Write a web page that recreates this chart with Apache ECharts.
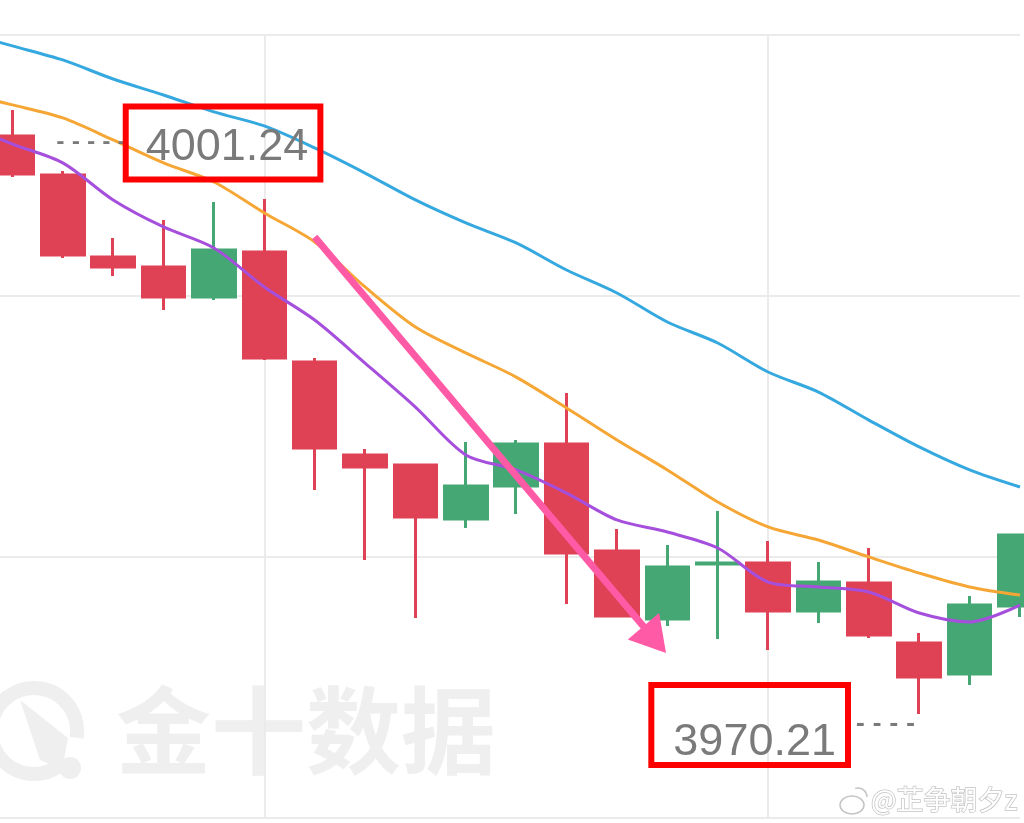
<!DOCTYPE html>
<html>
<head>
<meta charset="utf-8">
<script src="https://cdn.jsdelivr.net/npm/echarts@6/dist/echarts.min.js"></script>
<style>
  html, body { margin: 0; padding: 0; background: #fff; }
  #chart { width: 1024px; height: 823px; }
</style>
</head>
<body>
<div id="chart"></div>
<script>
// 第一根只是占位（屏幕左侧外），只画均线
var categories = ['k0', 'k1', 'k2', 'k3', 'k4', 'k5', 'k6', 'k7', 'k8', 'k9', 'k10',
  'k11', 'k12', 'k13', 'k14', 'k15', 'k16', 'k17', 'k18', 'k19', 'k20', 'k21']

var kOpen = [null, 3999.90, 3997.90, 3993.69, 3993.17, 3991.63, 3993.94, 3988.29, 3983.52, 3983.00, 3980.23,
  3981.92, 3984.08, 3978.58, 3975.09, 3977.92, 3977.97, 3975.50, 3976.94, 3973.86, 3972.27, 3975.76]
var kClose = [null, 3997.95, 3993.79, 3993.17, 3991.63, 3994.05, 3988.50, 3983.88, 3982.90, 3980.33, 3981.92,
  3984.08, 3978.48, 3975.25, 3977.76, 3977.97, 3975.50, 3976.99, 3974.27, 3972.11, 3975.81, 3979.41]
var kLow = [null, 3997.80, 3993.64, 3992.71, 3990.97, 3991.48, 3988.40, 3981.72, 3978.12, 3975.14, 3979.77,
  3980.49, 3975.86, 3975.19, 3974.73, 3974.06, 3973.50, 3974.89, 3974.12, 3970.21, 3971.70, 3975.19]
var kHigh = [null, 4001.24, 3998.11, 3994.66, 3995.59, 3996.51, 3996.67, 3988.50, 3983.82, 3983.00, 3984.18,
  3984.29, 3986.70, 3979.71, 3978.89, 3980.64, 3979.10, 3978.02, 3978.74, 3974.37, 3976.27, 3979.41]

var maBlue = [4005.25, 4004.53, 4003.81, 4002.83, 4002.01, 4001.14, 4000.42, 3999.29, 3998.00, 3996.62, 3995.44,
  3994.41, 3993.02, 3991.84, 3990.35, 3989.27, 3987.78, 3986.75, 3985.31, 3983.93, 3982.75, 3981.87]
var maOrange = [4002.11, 4001.50, 4000.83, 3999.70, 3998.52, 3997.54, 3995.95, 3994.46, 3992.15, 3990.09, 3988.76,
  3987.52, 3985.93, 3984.29, 3982.75, 3981.10, 3979.82, 3979.15, 3978.28, 3977.45, 3976.74, 3976.32]
var maPurple = [4000.52, 3999.49, 3998.52, 3996.62, 3995.23, 3994.15, 3992.15, 3990.45, 3988.24, 3985.98, 3983.52,
  3982.75, 3981.56, 3980.18, 3979.56, 3978.74, 3976.99, 3976.74, 3976.48, 3975.40, 3974.94, 3975.81]

var highValue = 4001.24
var lowValue = 3970.21
var priceLine = 3970.93
// 箭头（按K线序号，可以是小数）
var arrowFrom = [7, 3994.72]
var arrowTo = [13.75, 3974.03]

// y轴网格
var yMin = 3964.87
var yStep = 13.407
var yMax = 4005.091

var candles = categories.map(function (c, i) {
  if (kOpen[i] == null) return '-'
  return [kOpen[i], kClose[i], kLow[i], kHigh[i]]
})

function findIndex(arr, v) {
  for (var i = 0; i < arr.length; i++) if (arr[i] === v) return i
  return -1
}

var chart = echarts.init(document.getElementById('chart'))

function maSeries(name, data, color) {
  return {
    name: name,
    type: 'line',
    data: data,
    smooth: 0.3,
    symbol: 'none',
    clip: false,
    lineStyle: { color: color, width: 3 },
    z: 3
  }
}

var numFont = '"Liberation Sans", Arial, sans-serif'

chart.setOption({
  animation: false,
  backgroundColor: '#fff',
  grid: { left: -38, right: 4, top: 35, bottom: 5, outerBoundsMode: 'none', containLabel: false },
  xAxis: [
    {
      type: 'category',
      data: categories,
      boundaryGap: false,
      axisLine: { show: false },
      axisTick: { show: false },
      axisLabel: { show: false },
      splitLine: {
        show: true,
        interval: function (index) { return index % 10 === 6 },
        lineStyle: { color: '#ebebeb', width: 2 }
      }
    },
    {
      // 给箭头用的数值轴，和上面的类目一一对应
      type: 'value',
      min: 0,
      max: categories.length - 1,
      show: false,
      splitLine: { show: false }
    }
  ],
  yAxis: {
    type: 'value',
    min: yMin,
    max: yMax,
    interval: yStep,
    axisLine: { show: false },
    axisTick: { show: false },
    axisLabel: { show: false },
    splitLine: { lineStyle: { color: '#ebebeb', width: 2 } }
  },
  graphic: [
    {
      type: 'text', z: -1, silent: true,
      style: {
        x: 116, y: 731, text: '金十数据',
        font: 'bold 95px "Noto Sans CJK SC"',
        fill: '#efefef', textVerticalAlign: 'middle'
      }
    },
    {
      type: 'arc', z: -1, silent: true,
      shape: { cx: 34, cy: 731, r: 43, startAngle: Math.PI * 0.3, endAngle: Math.PI * 2.05 },
      style: { stroke: '#efefef', lineWidth: 14, fill: null }
    },
    {
      type: 'polygon', z: -1, silent: true,
      shape: { points: [[20, 700], [68, 738], [62, 770], [40, 760]] },
      style: { fill: '#efefef' }
    },
    {
      type: 'circle', z: -1, silent: true,
      shape: { cx: 70, cy: 768, r: 11 },
      style: { fill: '#efefef' }
    },
    {
      type: 'text', z: 10, silent: true,
      style: {
        x: 871, y: 800, text: '@芷争朝夕z',
        font: '27px "Noto Sans CJK SC"',
        fill: '#ffffff', stroke: '#c4c4c4', lineWidth: 1.5,
        textVerticalAlign: 'middle'
      }
    },
    {
      type: 'ellipse', z: 10, silent: true,
      shape: { cx: 852, cy: 805, rx: 12, ry: 9 },
      style: { fill: '#ffffff', stroke: '#c4c4c4', lineWidth: 1.5 }
    },
    {
      type: 'arc', z: 10, silent: true,
      shape: { cx: 858, cy: 797, r: 9, startAngle: -Math.PI * 0.6, endAngle: 0 },
      style: { stroke: '#c4c4c4', lineWidth: 1.5, fill: null }
    }
  ],
  series: [
    maSeries('MA30', maBlue, '#35a9df'),
    maSeries('MA10', maOrange, '#f6a635'),
    maSeries('MA5', maPurple, '#a54fdc'),
    {
      name: 'K',
      type: 'candlestick',
      data: candles,
      barWidth: 43,
      clip: false,
      z: 2,
      itemStyle: {
        color: '#45a874',
        color0: '#df4155',
        borderColor: '#45a874',
        borderColor0: '#df4155',
        borderWidth: 3
      },
      markLine: {
        silent: true,
        animation: false,
        label: { show: false },
        data: [
          [
            { yAxis: priceLine, symbol: 'none', lineStyle: { color: '#df4155', width: 3, type: [22, 21], dashOffset: 16 } },
            { yAxis: priceLine, symbol: 'none' }
          ]
        ]
      },
      markPoint: {
        silent: true,
        animation: false,
        data: [
          {
            coord: [findIndex(kHigh, highValue), highValue],
            symbol: 'circle',
            symbolSize: 0,
            label: {
              show: true,
              position: 'inside',
              offset: [176, 33],
              formatter: '{d|- - - - -}{b|' + highValue.toFixed(2) + '}',
              rich: {
                d: { fontSize: 20, fontWeight: 'bold', color: '#7a7a7a', fontFamily: 'DejaVu Sans' },
                b: {
                  fontSize: 45, lineHeight: 50, color: '#7a7a7a',
                  fontFamily: numFont,
                  borderColor: '#ff0000', borderWidth: 6,
                  padding: [19, 12, 9, 20]
                }
              }
            }
          },
          {
            coord: [findIndex(kLow, lowValue), lowValue],
            symbol: 'circle',
            symbolSize: 0,
            label: {
              show: true,
              position: 'inside',
              offset: [-136, 11],
              formatter: '{b|' + lowValue.toFixed(2) + '}{d| - - - -}',
              rich: {
                d: { fontSize: 22, fontWeight: 'bold', color: '#7a7a7a', fontFamily: 'DejaVu Sans' },
                b: {
                  fontSize: 45, lineHeight: 40, color: '#7a7a7a',
                  fontFamily: numFont,
                  borderColor: '#ff0000', borderWidth: 6,
                  padding: [35, 12, 0, 22]
                }
              }
            }
          }
        ]
      }
    },
    {
      name: 'arrow',
      type: 'line',
      xAxisIndex: 1,
      data: [],
      z: 5,
      markLine: {
        silent: true,
        animation: false,
        label: { show: false },
        data: [
          [
            { coord: arrowFrom, symbol: 'none', lineStyle: { color: '#ff5aa6', width: 7, type: 'solid' } },
            { coord: arrowTo, symbol: 'triangle', symbolSize: [41, 35] }
          ]
        ]
      }
    }
  ]
})
</script>
</body>
</html>
